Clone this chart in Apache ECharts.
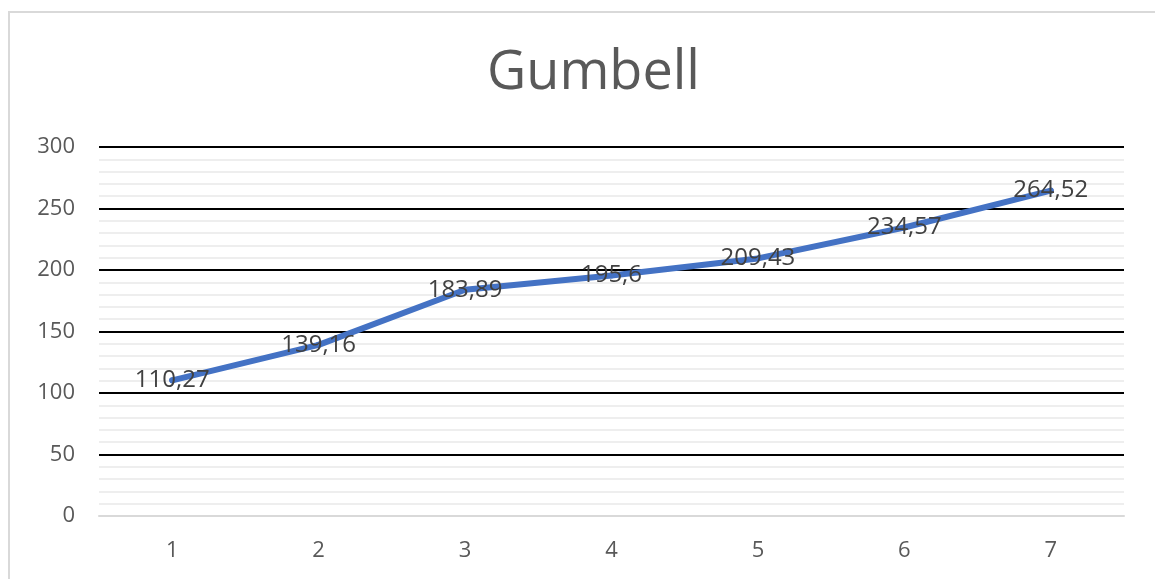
<!DOCTYPE html>
<html>
<head>
<meta charset="utf-8">
<script src="https://cdn.jsdelivr.net/npm/echarts@6/dist/echarts.min.js"></script>
<style>
  html, body { margin: 0; padding: 0; background: #fff; }
  .frame {
    position: absolute; left: 8px; top: 11px; width: 1200px; height: 600px;
    border-left: 2px solid #d9d9d9; border-top: 2px solid #d9d9d9;
  }
  #chart { position: absolute; left: 0; top: 0; width: 1155px; height: 579px; }
</style>
</head>
<body>
<div class="frame"></div>
<div id="chart"></div>
<script>
// categories and values
const categories = ['1', '2', '3', '4', '5', '6', '7']
const gumbellValues = [110.27, 139.16, 183.89, 195.6, 209.43, 234.57, 264.52]
const yTicks = { min: 0, max: 300, interval: 50 }

const myChart = echarts.init(document.getElementById('chart'))
const font = '"Open Sans", "Noto Sans", sans-serif'

const option = {
  animation: false,
  title: {
    text: 'Gumbell',
    left: 482,
    top: 42,
    textStyle: { fontFamily: font, fontSize: 54, fontWeight: 'normal', color: '#595959' }
  },
  grid: { left: 99, right: 31, top: 147, bottom: 63 },
  xAxis: {
    type: 'category',
    data: categories,
    boundaryGap: true,
    axisLine: { lineStyle: { color: '#d9d9d9', width: 2 } },
    axisTick: { show: false },
    axisLabel: { fontFamily: font, fontSize: 22, color: '#595959', margin: 24 }
  },
  yAxis: {
    type: 'value',
    min: yTicks.min,
    max: yTicks.max,
    interval: yTicks.interval,
    axisLine: { show: false },
    axisTick: { show: false },
    axisLabel: { fontFamily: font, fontSize: 22, color: '#595959', margin: 24 },
    splitLine: { lineStyle: { color: '#000', width: 2 } },
    minorTick: { show: false, splitNumber: 5 },
    minorSplitLine: { show: true, lineStyle: { color: '#eeeeee', width: 2 } }
  },
  series: [
    {
      name: 'Gumbell',
      type: 'line',
      data: gumbellValues,
      symbol: 'circle',
      symbolSize: 6,
      showSymbol: true,
      itemStyle: { color: '#4472c4' },
      lineStyle: { color: '#4472c4', width: 6, cap: 'round', join: 'round' },
      label: {
        show: true,
        position: 'inside',
        offset: [0, 4],
        fontFamily: font,
        fontSize: 24,
        color: '#404040',
        formatter: p => String(p.value).replace('.', ',')
      },
      labelLayout: { hideOverlap: false },
      z: 3
    }
  ]
}
myChart.setOption(option)
</script>
</body>
</html>
